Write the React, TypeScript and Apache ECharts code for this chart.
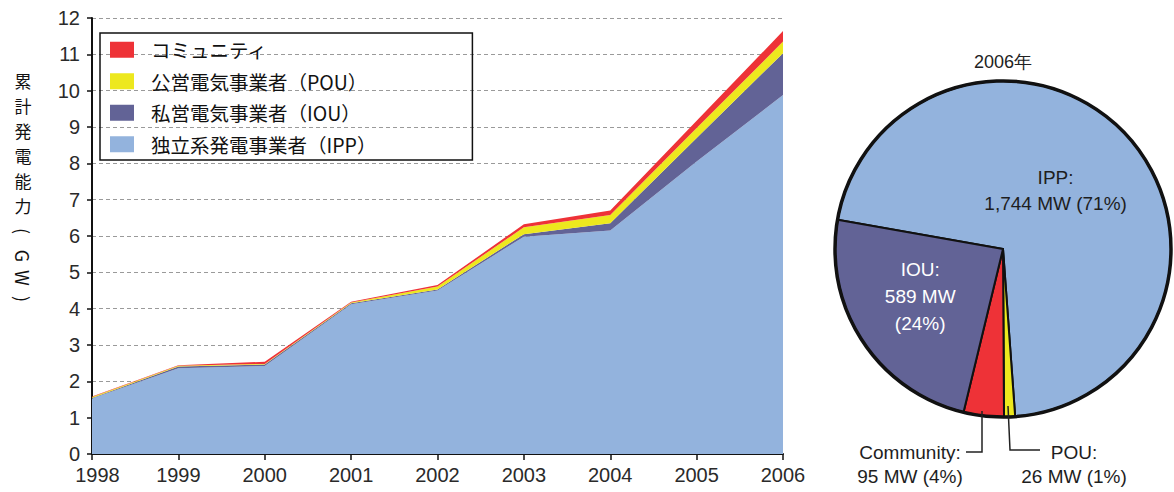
import React, { useEffect, useRef } from 'react';
import * as echarts from 'echarts';

const years = ['1998', '1999', '2000', '2001', '2002', '2003', '2004', '2005', '2006'];
const ippGW = [1.53, 2.36, 2.42, 4.12, 4.5, 5.98, 6.15, 8.05, 9.88];
const iouGW = [0.01, 0.05, 0.04, 0.03, 0.03, 0.07, 0.2, 0.65, 1.15];
const pouGW = [0.03, 0.02, 0.02, 0.02, 0.08, 0.19, 0.23, 0.27, 0.32];
const communityGW = [0.01, 0.01, 0.06, 0.02, 0.04, 0.08, 0.12, 0.2, 0.29];

const seriesNames = ['独立系発電事業者（IPP）', '私営電気事業者（IOU）', '公営電気事業者（POU）', 'コミュニティ'];
const legendOrder = ['コミュニティ', '公営電気事業者（POU）', '私営電気事業者（IOU）', '独立系発電事業者（IPP）'];
const colors = ['#93B3DD', '#626396', '#EDE81E', '#EE3237'];

const pieTitle = '2006年';
const pieNames = ['IPP', 'POU', 'Community', 'IOU'];
const pieValues = [1744, 26, 95, 589];
const pieColors = ['#93B3DD', '#EDE81E', '#EE3237', '#626396'];

const yAxisTitle = '累計発電能力';
const yAxisUnitChars = ['(', 'G', 'W', ')'];

const SANS = "'Liberation Sans', Arial, sans-serif";
const CJK = "'Noto Sans CJK JP', sans-serif";

const PIE_CX = 1003;
const PIE_CY = 249;
const PIE_R = 168;

export default function App() {
  const ref = useRef<HTMLDivElement>(null);
  useEffect(() => {
    if (!ref.current) return;
    const chart = echarts.init(ref.current, null, { renderer: 'svg' });
    const total = pieValues.reduce((a, b) => a + b, 0);
    const pct = (v: number) => Math.round((v / total) * 100);
    const fmt = (v: number) => v.toLocaleString('en-US');
    const stackData = [ippGW, iouGW, pouGW, communityGW];

    const commIdx = pieNames.indexOf('Community');
    const pouIdx = pieNames.indexOf('POU');

    const titleChars = yAxisTitle.split('').map((c, i) => ({
      type: 'text',
      x: 23,
      y: 80 + i * 25,
      style: {
        text: c,
        font: `17px ${CJK}`,
        lineHeight: 17,
        fill: '#111',
        align: 'center',
        verticalAlign: 'middle',
      },
    }));
    const unitY = [231, 256, 278, 299];
    const unitChars = yAxisUnitChars.map((c, i) => ({
      type: 'text',
      x: 23,
      y: unitY[i],
      rotation: -Math.PI / 2,
      style: {
        text: c,
        font: `18px ${CJK}`,
        lineHeight: 18,
        fill: '#111',
        align: 'center',
        verticalAlign: 'middle',
      },
    }));

    chart.setOption({
      animation: false,
      backgroundColor: '#ffffff',
      legend: {
        orient: 'vertical',
        left: 100,
        top: 33,
        data: legendOrder,
        icon: 'rect',
        itemWidth: 24,
        itemHeight: 16,
        itemGap: 12,
        borderColor: '#111',
        borderWidth: 1.5,
        padding: [7, 96, 6, 10],
        selectedMode: false,
        textStyle: { fontFamily: CJK, fontSize: 19.5, color: '#111', padding: [0, 0, 0, 12] },
      },
      grid: { left: 92, right: 391, top: 18, bottom: 38, containLabel: false },
      xAxis: {
        type: 'category',
        data: years,
        boundaryGap: false,
        axisLine: { lineStyle: { color: '#111', width: 2 } },
        axisTick: { show: true, interval: 0, length: 6, lineStyle: { color: '#111', width: 1.5 } },
        axisLabel: {
          interval: 0,
          color: '#2a2a2a',
          fontSize: 20,
          fontFamily: SANS,
          margin: 11,
          formatter: (v: string, i: number) => (i === 0 ? `{first|${v}}` : v),
          rich: { first: { fontSize: 20, fontFamily: SANS, color: '#2a2a2a', padding: [0, 0, 0, 11] } },
        },
        splitLine: { show: false },
      },
      yAxis: {
        type: 'value',
        min: 0,
        max: 12,
        interval: 1,
        axisLine: { show: true, lineStyle: { color: '#111', width: 2 } },
        axisTick: { show: true, length: 5, lineStyle: { color: '#111', width: 1.5 } },
        axisLabel: { color: '#2a2a2a', fontSize: 20, fontFamily: SANS, margin: 12 },
        splitLine: { show: true, lineStyle: { color: '#9a9a9a', type: [4, 3], width: 1 } },
      },
      series: [
        ...stackData.map((d, i) => ({
          name: seriesNames[i],
          type: 'line',
          stack: 'total',
          data: d,
          symbol: 'none',
          lineStyle: { width: 0 },
          itemStyle: { color: colors[i] },
          areaStyle: { color: colors[i], opacity: 1 },
          z: 2,
        })),
        {
          type: 'pie',
          center: [PIE_CX, PIE_CY],
          radius: PIE_R,
          startAngle: 170,
          clockwise: true,
          silent: true,
          itemStyle: { borderColor: '#111', borderWidth: 2 },
          labelLine: { show: false },
          data: pieNames.map((n, i) => {
            const v = pieValues[i];
            const inside = n === 'IPP' || n === 'IOU';
            return {
              name: n,
              value: v,
              itemStyle: { color: pieColors[i] },
              label: inside
                ? {
                    show: true,
                    position: 'inside',
                    formatter:
                      n === 'IPP'
                        ? `${n}:\n${fmt(v)} MW (${pct(v)}%)`
                        : `${n}:\n${fmt(v)} MW\n(${pct(v)}%)`,
                    color: n === 'IPP' ? '#1e1e1e' : '#ffffff',
                    fontFamily: SANS,
                    fontSize: 19,
                    lineHeight: n === 'IPP' ? 26 : 27,
                    align: 'center',
                    padding: n === 'IPP' ? [0, 24, 0, 0] : [0, 20, 0, 0],
                  }
                : { show: false },
            };
          }),
        },
      ],
      graphic: [
        ...titleChars,
        ...unitChars,
        {
          type: 'text',
          x: PIE_CX,
          y: 62,
          style: {
            text: pieTitle,
            font: `18px ${SANS}`,
            fill: '#222',
            align: 'center',
            verticalAlign: 'middle',
          },
        },
        {
          type: 'circle',
          shape: { cx: PIE_CX, cy: PIE_CY, r: PIE_R },
          style: { fill: 'none', stroke: '#111', lineWidth: 3.5 },
          silent: true,
          z: 10,
        },
        {
          type: 'polyline',
          shape: { points: [[982, 411], [982, 452], [966, 452]] },
          style: { stroke: '#222', lineWidth: 1.5, fill: 'none' },
          z: 11,
        },
        {
          type: 'polyline',
          shape: { points: [[1008, 406], [1010, 450], [1040, 450]] },
          style: { stroke: '#222', lineWidth: 1.5, fill: 'none' },
          z: 11,
        },
        {
          type: 'text',
          x: 910,
          y: 464,
          style: {
            text: `${pieNames[commIdx]}:\n${fmt(pieValues[commIdx])} MW (${pct(pieValues[commIdx])}%)`,
            font: `19px ${SANS}`,
            lineHeight: 24,
            fill: '#1e1e1e',
            align: 'center',
            verticalAlign: 'middle',
          },
        },
        {
          type: 'text',
          x: 1074,
          y: 464,
          style: {
            text: `${pieNames[pouIdx]}:\n${fmt(pieValues[pouIdx])} MW (${pct(pieValues[pouIdx])}%)`,
            font: `19px ${SANS}`,
            lineHeight: 24,
            fill: '#1e1e1e',
            align: 'center',
            verticalAlign: 'middle',
          },
        },
      ],
    });
    return () => chart.dispose();
  }, []);
  return (
    <div
      ref={ref}
      style={{ position: 'fixed', left: 0, top: 0, width: 1174, height: 492, background: '#fff' }}
    />
  );
}
